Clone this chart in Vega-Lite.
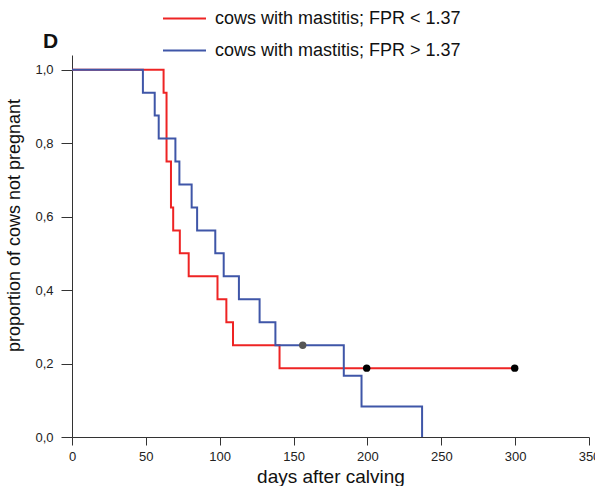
{
  "$schema": "https://vega.github.io/schema/vega-lite/v6.json",
  "autosize": "none",
  "width": 517,
  "height": 382,
  "padding": {"left": 72, "top": 55, "right": 6, "bottom": 49},
  "background": "white",
  "config": {
    "font": "Liberation Sans",
    "view": {"stroke": null},
    "axis": {"grid": false, "domainColor": "#333", "tickColor": "#333", "labelColor": "#222", "titleColor": "#111", "labelFont": "Liberation Sans", "titleFont": "Liberation Sans", "titleFontWeight": "normal"}
  },
  "title": {"text": "D", "anchor": "start", "frame": "group", "fontSize": 21, "fontWeight": "bold", "dx": -29, "dy": 62, "offset": 6, "color": "#111"},
  "datasets": {
    "km": [
      {"group": "cows with mastitis; FPR < 1.37", "day": 0, "surv": 1.0},
      {"group": "cows with mastitis; FPR < 1.37", "day": 62, "surv": 0.9375},
      {"group": "cows with mastitis; FPR < 1.37", "day": 64, "surv": 0.75},
      {"group": "cows with mastitis; FPR < 1.37", "day": 67, "surv": 0.625},
      {"group": "cows with mastitis; FPR < 1.37", "day": 68.5, "surv": 0.5625},
      {"group": "cows with mastitis; FPR < 1.37", "day": 73, "surv": 0.5},
      {"group": "cows with mastitis; FPR < 1.37", "day": 79, "surv": 0.4375},
      {"group": "cows with mastitis; FPR < 1.37", "day": 98.5, "surv": 0.375},
      {"group": "cows with mastitis; FPR < 1.37", "day": 104.5, "surv": 0.3125},
      {"group": "cows with mastitis; FPR < 1.37", "day": 109, "surv": 0.25},
      {"group": "cows with mastitis; FPR < 1.37", "day": 140.5, "surv": 0.1875},
      {"group": "cows with mastitis; FPR < 1.37", "day": 300, "surv": 0.1875},
      {"group": "cows with mastitis; FPR > 1.37", "day": 0, "surv": 1.0},
      {"group": "cows with mastitis; FPR > 1.37", "day": 48, "surv": 0.9375},
      {"group": "cows with mastitis; FPR > 1.37", "day": 56, "surv": 0.875},
      {"group": "cows with mastitis; FPR > 1.37", "day": 58.7, "surv": 0.8125},
      {"group": "cows with mastitis; FPR > 1.37", "day": 70, "surv": 0.75},
      {"group": "cows with mastitis; FPR > 1.37", "day": 72.7, "surv": 0.6875},
      {"group": "cows with mastitis; FPR > 1.37", "day": 81, "surv": 0.625},
      {"group": "cows with mastitis; FPR > 1.37", "day": 84.7, "surv": 0.5625},
      {"group": "cows with mastitis; FPR > 1.37", "day": 97, "surv": 0.5},
      {"group": "cows with mastitis; FPR > 1.37", "day": 102.7, "surv": 0.4375},
      {"group": "cows with mastitis; FPR > 1.37", "day": 113, "surv": 0.375},
      {"group": "cows with mastitis; FPR > 1.37", "day": 127, "surv": 0.3125},
      {"group": "cows with mastitis; FPR > 1.37", "day": 137.7, "surv": 0.25},
      {"group": "cows with mastitis; FPR > 1.37", "day": 184, "surv": 0.1667},
      {"group": "cows with mastitis; FPR > 1.37", "day": 196, "surv": 0.0833},
      {"group": "cows with mastitis; FPR > 1.37", "day": 237, "surv": 0.0}
    ],
    "cens": [
      {"group": "FPR > 1.37", "day": 156.2, "surv": 0.25},
      {"group": "FPR < 1.37", "day": 199.5, "surv": 0.1875},
      {"group": "FPR < 1.37", "day": 299.7, "surv": 0.1875}
    ]
  },
  "layer": [
    {
      "data": {"name": "km"},
      "mark": {"type": "line", "interpolate": "step-after", "strokeWidth": 2, "clip": false},
      "encoding": {
        "x": {"field": "day", "type": "quantitative", "scale": {"domain": [0, 350], "nice": false, "zero": false},
          "axis": {"values": [0, 50, 100, 150, 200, 250, 300, 350], "title": "days after calving", "titleFontSize": 19, "titlePadding": 4, "labelFontSize": 13, "tickSize": 8, "labelPadding": 5, "labelFlush": false}},
        "y": {"field": "surv", "type": "quantitative", "scale": {"domain": [0, 1.04], "nice": false},
          "axis": {"values": [0, 0.2, 0.4, 0.6, 0.8, 1.0], "labelExpr": "replace(format(datum.value, '.1f'), '.', ',')", "title": "proportion of cows not pregnant", "titleFontSize": 18, "titlePadding": 11, "titleY": 170, "labelFontSize": 13, "tickSize": 11, "labelPadding": 8}},
        "color": {"field": "group", "type": "nominal",
          "scale": {"domain": ["cows with mastitis; FPR < 1.37", "cows with mastitis; FPR > 1.37"], "range": ["#ee2424", "#3f56a8"]},
          "legend": {"title": null, "orient": "none", "legendX": 90, "legendY": -59, "symbolType": "stroke", "symbolSize": 1849, "symbolStrokeWidth": 2, "labelFontSize": 18, "labelLimit": 0, "labelColor": "#111", "rowPadding": -4, "labelOffset": 8}}
      }
    },
    {
      "data": {"name": "cens"},
      "mark": {"type": "point", "filled": true, "size": 55, "opacity": 1},
      "encoding": {
        "x": {"field": "day", "type": "quantitative"},
        "y": {"field": "surv", "type": "quantitative"},
        "fill": {"field": "group", "type": "nominal", "scale": {"domain": ["FPR < 1.37", "FPR > 1.37"], "range": ["#000000", "#555555"]}, "legend": null}
      }
    }
  ],
  "resolve": {"scale": {"color": "independent", "fill": "independent"}}
}
